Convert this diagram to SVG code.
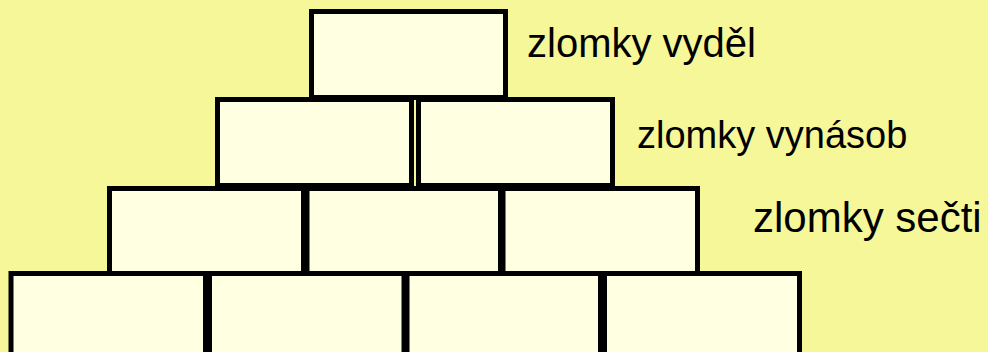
<svg xmlns="http://www.w3.org/2000/svg" width="988" height="352" viewBox="0 0 988 352">
<style>
.b{fill:#FFFFE1;stroke:#000;stroke-width:5}
.t{font-family:"Liberation Sans",Arial,sans-serif;fill:#000}
</style>
<rect width="988" height="352" fill="#F6F799"/>
<g id="row1">
<rect id="b11" class="b" x="311.5" y="11.5" width="194" height="86"/>
</g>
<g id="row2">
<rect id="b21" class="b" x="217.5" y="99.5" width="194" height="86"/>
<rect id="b22" class="b" x="418.5" y="99.5" width="194" height="86"/>
</g>
<g id="row3">
<rect id="b31" class="b" x="109.5" y="188.5" width="194" height="85"/>
<rect id="b32" class="b" x="307" y="188.5" width="193.5" height="85"/>
<rect id="b33" class="b" x="503" y="188.5" width="194.5" height="85"/>
</g>
<g id="row4">
<rect id="b41" class="b" x="11" y="273.5" width="194.5" height="100"/>
<rect id="b42" class="b" x="209.5" y="273.5" width="194.5" height="100"/>
<rect id="b43" class="b" x="407" y="273.5" width="193.5" height="100"/>
<rect id="b44" class="b" x="604.5" y="273.5" width="195" height="100"/>
</g>
<g id="labels">
<text class="t" x="527" y="57" font-size="40">zlomky vyděl</text>
<text class="t" x="637" y="148" font-size="38">zlomky vynásob</text>
<text class="t" x="753" y="232" font-size="42">zlomky sečti</text>
</g>
</svg>
